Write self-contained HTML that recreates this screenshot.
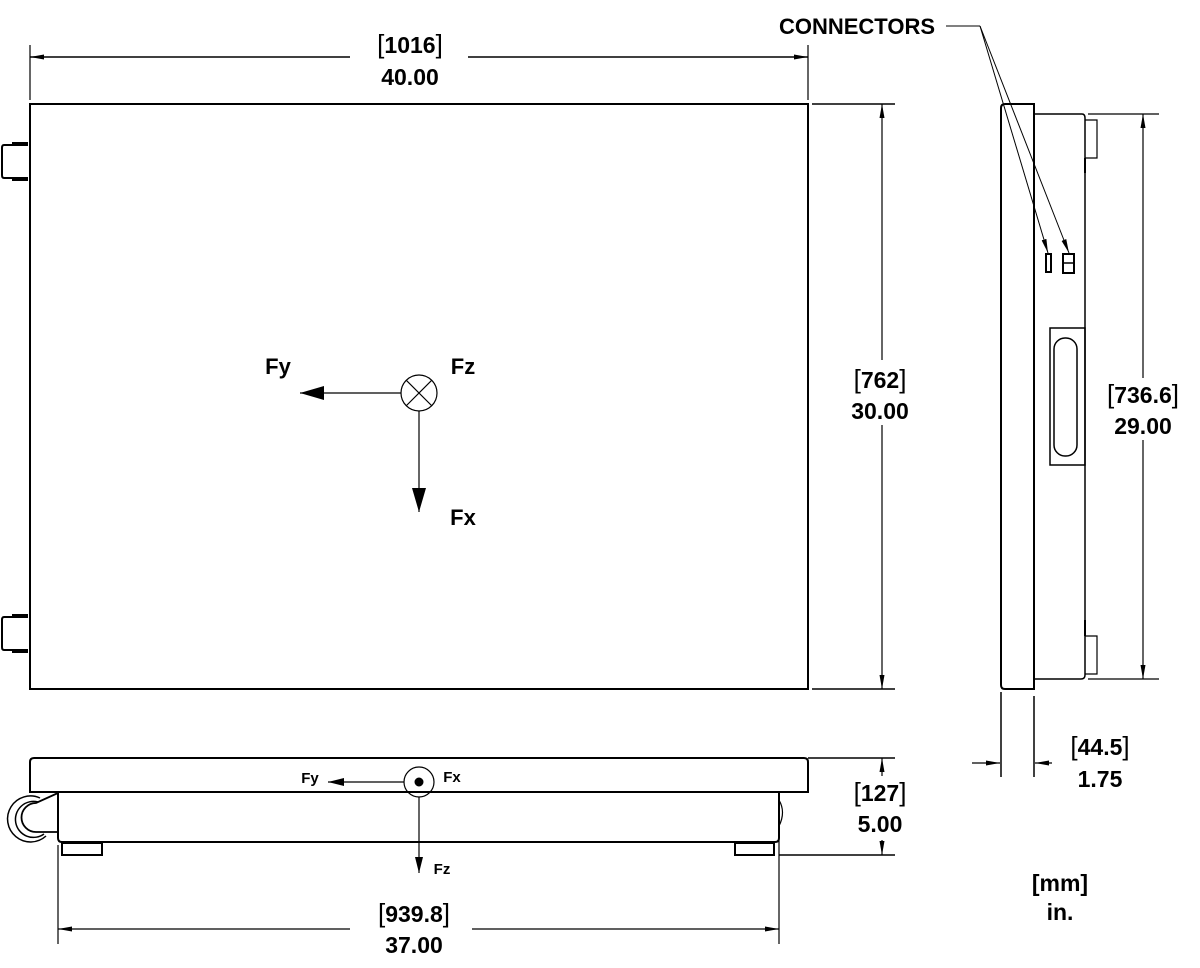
<!DOCTYPE html>
<html><head><style>
html,body{margin:0;padding:0;background:#fff;}
svg{display:block;}
text{font-family:"Liberation Sans",sans-serif;font-weight:bold;fill:#000;}
.b{font-weight:normal;font-size:26px;}
</style></head><body>
<svg width="1200" height="968" viewBox="0 0 1200 968" xmlns="http://www.w3.org/2000/svg">
<defs>
<marker id="ah" markerWidth="16" markerHeight="8" refX="16" refY="4" orient="auto" markerUnits="userSpaceOnUse"><path d="M0,0 L16,4 L0,8 Z" fill="#000"/></marker>
<marker id="as" markerWidth="14" markerHeight="5" refX="14" refY="2.5" orient="auto" markerUnits="userSpaceOnUse"><path d="M0,0 L14,2.5 L0,5 Z" fill="#000"/></marker>
<marker id="ab" markerWidth="24" markerHeight="14" refX="24" refY="7" orient="auto" markerUnits="userSpaceOnUse"><path d="M0,0 L24,7 L0,14 Z" fill="#000"/></marker>
</defs>
<g fill="none" stroke="#000">
<!-- TOP VIEW -->
<rect x="30" y="104" width="778" height="585" stroke-width="2"/>
<path d="M28,145 H4 Q2,145 2,148 V175 Q2,178 4,178 H28" stroke-width="2"/>
<path d="M12,143 H28 M12,180 H28" stroke-width="2"/>
<path d="M28,617 H4 Q2,617 2,620 V647 Q2,650 4,650 H28" stroke-width="2"/>
<path d="M12,615 H28 M12,652 H28" stroke-width="2"/>
<!-- top dim -->
<path d="M30,45 V100 M808,45 V100" stroke-width="1.2"/>
<path d="M350,57 H30" stroke-width="1.5" marker-end="url(#as)"/>
<path d="M468,57 H808" stroke-width="1.5" marker-end="url(#as)"/>
<!-- right dim 762 -->
<path d="M812,104 H895 M812,689 H895" stroke-width="1.5"/>
<path d="M882,360 V104" stroke-width="1.2" marker-end="url(#as)"/>
<path d="M882,425 V689" stroke-width="1.2" marker-end="url(#as)"/>
<!-- force symbol -->
<circle cx="419" cy="393" r="18" stroke-width="1.2"/>
<path d="M406,380 L432,406 M432,380 L406,406" stroke-width="1.2"/>
<path d="M401,393 H300" stroke-width="1.2" marker-end="url(#ab)"/>
<path d="M419,411 V512" stroke-width="1.2" marker-end="url(#ab)"/>

<!-- SIDE VIEW -->
<path d="M1001,108 Q1001,104 1005,104 H1034 V689 H1005 Q1001,689 1001,685 Z" stroke-width="2"/>
<path d="M1034,114 H1082 Q1085,114 1085,118 V675 Q1085,679 1081,679 H1034" stroke-width="1.5"/>
<path d="M1085,120 H1097 V158 H1085 M1085,636 H1097 V674 H1085" stroke-width="1.2"/>
<path d="M1085,158 V173 M1085,620 V636" stroke-width="2"/>
<rect x="1046" y="254" width="5" height="18" stroke-width="2"/>
<rect x="1063" y="254" width="11" height="19" stroke-width="2"/>
<path d="M1063,263 H1074" stroke-width="1.5"/>
<rect x="1050" y="328" width="35" height="137" stroke-width="1.5"/>
<rect x="1054" y="338" width="23" height="118" rx="11" stroke-width="1.5"/>
<!-- connector leader -->
<path d="M946,26 H980" stroke-width="1"/>
<path d="M980,26 L1048,253" stroke-width="1" marker-end="url(#as)"/>
<path d="M980,26 L1069,253" stroke-width="1" marker-end="url(#as)"/>
<!-- 736.6 dim -->
<path d="M1088,114 H1159 M1088,679 H1159" stroke-width="1.2"/>
<path d="M1143,378 V114" stroke-width="1.2" marker-end="url(#as)"/>
<path d="M1143,440 V679" stroke-width="1.2" marker-end="url(#as)"/>
<!-- 44.5 dim -->
<path d="M1001,692 V777 M1034,696 V777" stroke-width="1.5"/>
<path d="M972,763 H1000" stroke-width="1.2" marker-end="url(#as)"/>
<path d="M1052,763 H1035" stroke-width="1.2" marker-end="url(#as)"/>

<!-- FRONT VIEW -->
<path d="M30,792 V762 Q30,758 34,758 H804 Q808,758 808,762 V792 Z" stroke-width="2"/>
<path d="M58,792 V838 Q58,842 62,842 H775 Q779,842 779,838 V792" stroke-width="2"/>
<path d="M779,800 Q786,812 779,826" stroke-width="1.2"/>
<rect x="62" y="843" width="40" height="12" stroke-width="2"/>
<rect x="735" y="843" width="39" height="12" stroke-width="2"/>
<path d="M40,798 A23,23 0 1 0 46,836" stroke-width="1.5"/>
<path d="M38,802 A18,18 0 1 0 44,834" stroke-width="1.5"/>
<path d="M58,793 L36,803 A14,14 0 0 0 36,832 H58" stroke-width="1.8"/>
<circle cx="419" cy="782" r="15" stroke-width="1.2"/>
<circle cx="419" cy="782" r="4" fill="#000"/>
<path d="M404,782 H328" stroke-width="1.2" marker-end="url(#ah)"/>
<path d="M419,797 V873" stroke-width="1.2" marker-end="url(#ah)"/>
<!-- 127 dim -->
<path d="M808,758 H895 M779,855 H895" stroke-width="1.5"/>
<path d="M882,776 V758" stroke-width="1.2" marker-end="url(#as)"/>
<path d="M882,840 V855" stroke-width="1.2" marker-end="url(#as)"/>
<!-- 939.8 dim -->
<path d="M58,845 V944 M779,795 V944" stroke-width="1.2"/>
<path d="M350,929 H58" stroke-width="1.2" marker-end="url(#as)"/>
<path d="M472,929 H779" stroke-width="1.2" marker-end="url(#as)"/>
</g>

<g font-size="23">
<text x="410" y="53" text-anchor="middle"><tspan class="b">[</tspan>1016<tspan class="b">]</tspan></text>
<text x="410" y="85" text-anchor="middle">40.00</text>
<text x="880" y="388" text-anchor="middle"><tspan class="b">[</tspan>762<tspan class="b">]</tspan></text>
<text x="880" y="419" text-anchor="middle">30.00</text>
<text x="1143" y="403" text-anchor="middle"><tspan class="b">[</tspan>736.6<tspan class="b">]</tspan></text>
<text x="1143" y="434" text-anchor="middle">29.00</text>
<text x="1100" y="755" text-anchor="middle"><tspan class="b">[</tspan>44.5<tspan class="b">]</tspan></text>
<text x="1100" y="787" text-anchor="middle">1.75</text>
<text x="880" y="801" text-anchor="middle"><tspan class="b">[</tspan>127<tspan class="b">]</tspan></text>
<text x="880" y="832" text-anchor="middle">5.00</text>
<text x="414" y="922" text-anchor="middle"><tspan class="b">[</tspan>939.8<tspan class="b">]</tspan></text>
<text x="414" y="953" text-anchor="middle">37.00</text>
<text x="857" y="34" text-anchor="middle" font-size="22">CONNECTORS</text>
<text x="1060" y="891" text-anchor="middle">[mm]</text>
<text x="1060" y="920" text-anchor="middle">in.</text>
<text x="278" y="374" text-anchor="middle" font-size="22">Fy</text>
<text x="463" y="374" text-anchor="middle" font-size="22">Fz</text>
<text x="463" y="525" text-anchor="middle" font-size="22">Fx</text>
</g>
<g font-size="15">
<text x="310" y="783" text-anchor="middle">Fy</text>
<text x="452" y="782" text-anchor="middle">Fx</text>
<text x="442" y="874" text-anchor="middle">Fz</text>
</g>
</svg>
</body></html>
